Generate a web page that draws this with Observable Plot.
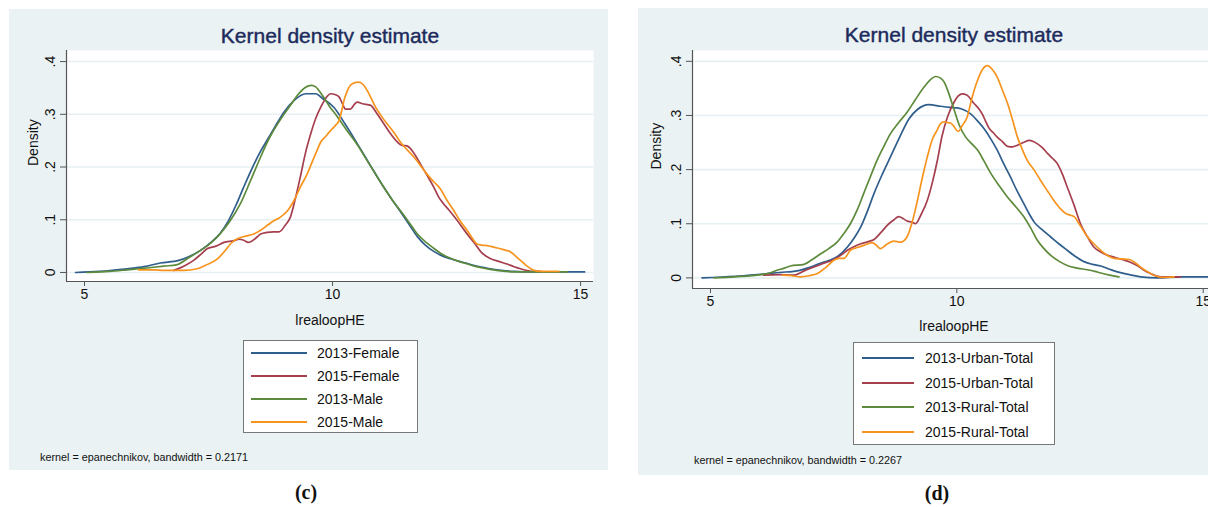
<!DOCTYPE html>
<html><head><meta charset="utf-8">
<script src="https://cdn.jsdelivr.net/npm/d3@7"></script>
<script src="https://cdn.jsdelivr.net/npm/@observablehq/plot@0.6"></script>
<style>
body{margin:0;background:#fff;}
#root{position:relative;width:1208px;height:507px;overflow:hidden;background:#fff;font-family:"Liberation Sans",Arial,sans-serif;color:#111}
.panel{position:absolute;background:#eaf2f3}
.title{position:absolute;font-size:21px;color:#1c2a5c;white-space:nowrap;transform:translate(-50%,-50%);-webkit-text-stroke:0.4px #1c2a5c}
.xlab{position:absolute;font-size:14px;white-space:nowrap;transform:translate(-50%,-50%)}
.legend{position:absolute;background:#fff;border:1px solid #777;box-sizing:border-box}
.lrow{position:absolute;left:0;right:0;height:0}
.lline{position:absolute;height:0;border-top:2px solid}
.ltext{position:absolute;font-size:14px;white-space:nowrap;transform:translateY(-50%)}
.note{position:absolute;white-space:nowrap;transform:translateY(-50%)}
.cap{position:absolute;font-family:"Liberation Serif","DejaVu Serif",serif;font-weight:bold;font-size:20px;transform:translate(-50%,-50%)}
svg{position:absolute;overflow:visible}
</style></head><body>
<div id="root"></div>
<script>
// ---------- data: panel (c) ----------
const cSeries = ["2013-Female", "2015-Female", "2013-Male", "2015-Male"];
const c2013Female = [[4.82,0],[5.3,0.002],[5.86,0.007],[6.2,0.011],[6.53,0.018],[6.9,0.023],[7.1,0.030],[7.34,0.042],[7.55,0.057],[7.74,0.075],[7.9,0.098],[8.05,0.127],[8.2,0.160],[8.38,0.198],[8.55,0.230],[8.7,0.254],[8.85,0.278],[9.02,0.304],[9.22,0.326],[9.46,0.339],[9.66,0.339],[9.8,0.330],[10.03,0.313],[10.25,0.282],[10.5,0.244],[10.75,0.205],[11.03,0.162],[11.2,0.138],[11.37,0.115],[11.55,0.090],[11.71,0.068],[11.87,0.052],[12.04,0.040],[12.2,0.032],[12.38,0.026],[12.55,0.021],[12.72,0.017],[12.9,0.012],[13.12,0.008],[13.4,0.004],[13.66,0.002],[14.05,0.001],[14.5,0.001],[15.08,0.001]];
const c2015Female = [[6.8,0.004],[7.0,0.012],[7.2,0.023],[7.35,0.035],[7.47,0.045],[7.65,0.050],[7.81,0.057],[8.0,0.060],[8.12,0.063],[8.21,0.061],[8.3,0.057],[8.45,0.065],[8.55,0.073],[8.68,0.076],[8.8,0.077],[8.92,0.077],[9.05,0.090],[9.15,0.105],[9.25,0.140],[9.35,0.181],[9.45,0.225],[9.56,0.263],[9.66,0.292],[9.76,0.313],[9.86,0.330],[9.96,0.339],[10.06,0.337],[10.13,0.333],[10.2,0.320],[10.26,0.310],[10.36,0.310],[10.45,0.320],[10.5,0.323],[10.6,0.320],[10.77,0.317],[10.87,0.305],[10.97,0.291],[11.07,0.277],[11.17,0.263],[11.3,0.248],[11.4,0.241],[11.5,0.240],[11.57,0.235],[11.67,0.222],[11.77,0.206],[11.9,0.185],[12.04,0.162],[12.14,0.143],[12.24,0.130],[12.35,0.118],[12.51,0.099],[12.68,0.077],[12.85,0.057],[13.0,0.038],[13.19,0.026],[13.35,0.021],[13.52,0.016],[13.66,0.011],[13.79,0.007],[13.95,0.003],[14.06,0.002],[14.2,0.002]];
const c2013Male = [[5.05,0],[5.5,0.002],[5.86,0.005],[6.3,0.009],[6.6,0.012],[6.87,0.015],[7.1,0.028],[7.34,0.042],[7.55,0.056],[7.74,0.074],[7.95,0.100],[8.14,0.130],[8.35,0.175],[8.55,0.219],[8.7,0.25],[8.81,0.269],[9.0,0.297],[9.15,0.317],[9.3,0.337],[9.49,0.353],[9.58,0.355],[9.66,0.352],[9.8,0.335],[9.94,0.315],[10.1,0.295],[10.3,0.268],[10.5,0.242],[10.75,0.204],[11.03,0.162],[11.2,0.138],[11.37,0.117],[11.55,0.094],[11.71,0.073],[11.9,0.056],[12.04,0.046],[12.2,0.035],[12.38,0.027],[12.55,0.021],[12.72,0.016],[12.9,0.011],[13.12,0.007],[13.4,0.003],[13.7,0.001],[14.2,0.001],[14.73,0.001]];
const c2015Male = [[6.09,0.005],[6.4,0.005],[6.6,0.004],[6.8,0.004],[7.0,0.004],[7.27,0.007],[7.45,0.014],[7.68,0.026],[7.85,0.043],[7.95,0.055],[8.08,0.064],[8.25,0.069],[8.41,0.073],[8.55,0.080],[8.68,0.089],[8.8,0.097],[8.95,0.105],[9.1,0.118],[9.22,0.136],[9.35,0.162],[9.49,0.187],[9.6,0.212],[9.69,0.232],[9.76,0.247],[9.86,0.258],[9.96,0.269],[10.05,0.278],[10.13,0.288],[10.18,0.305],[10.23,0.326],[10.3,0.345],[10.36,0.355],[10.45,0.360],[10.53,0.361],[10.62,0.356],[10.7,0.345],[10.78,0.330],[10.87,0.313],[10.98,0.297],[11.1,0.282],[11.24,0.265],[11.37,0.247],[11.5,0.233],[11.64,0.219],[11.77,0.203],[11.9,0.187],[12.04,0.172],[12.17,0.159],[12.3,0.138],[12.44,0.118],[12.57,0.098],[12.71,0.080],[12.81,0.066],[12.91,0.054],[13.0,0.052],[13.12,0.051],[13.25,0.048],[13.38,0.045],[13.5,0.042],[13.59,0.039],[13.69,0.031],[13.79,0.023],[13.92,0.012],[14.06,0.004],[14.2,0.002],[14.56,0.002]];

// ---------- data: panel (d) ----------
const dSeries = ["2013-Urban-Total", "2015-Urban-Total", "2013-Rural-Total", "2015-Rural-Total"];
const d2013Urban = [[4.83,0],[5.5,0.003],[6.08,0.007],[6.4,0.010],[6.76,0.013],[7.0,0.019],[7.23,0.027],[7.4,0.032],[7.57,0.039],[7.78,0.057],[7.92,0.074],[8.05,0.094],[8.18,0.122],[8.32,0.156],[8.48,0.190],[8.65,0.223],[8.85,0.262],[9.03,0.294],[9.2,0.311],[9.43,0.320],[9.67,0.317],[9.85,0.315],[10.01,0.314],[10.1,0.312],[10.28,0.303],[10.42,0.290],[10.55,0.276],[10.7,0.255],[10.82,0.236],[10.95,0.211],[11.09,0.186],[11.22,0.161],[11.36,0.137],[11.47,0.118],[11.57,0.103],[11.73,0.089],[11.9,0.076],[12.07,0.063],[12.24,0.051],[12.4,0.040],[12.58,0.030],[12.75,0.025],[12.92,0.022],[13.1,0.016],[13.26,0.011],[13.5,0.006],[13.73,0.002],[14.07,0.0],[14.54,0.002],[15.09,0.002],[15.25,0.002]];
const d2015Urban = [[6.08,0.005],[6.4,0.006],[6.69,0.005],[6.9,0.013],[7.1,0.020],[7.3,0.027],[7.51,0.034],[7.65,0.042],[7.78,0.051],[7.92,0.058],[8.05,0.063],[8.2,0.067],[8.32,0.071],[8.47,0.085],[8.62,0.100],[8.72,0.107],[8.82,0.113],[8.92,0.109],[8.99,0.105],[9.08,0.103],[9.16,0.100],[9.28,0.118],[9.4,0.143],[9.5,0.175],[9.6,0.215],[9.7,0.262],[9.81,0.297],[9.94,0.324],[10.03,0.336],[10.11,0.340],[10.2,0.338],[10.35,0.322],[10.45,0.312],[10.52,0.302],[10.58,0.290],[10.65,0.277],[10.74,0.268],[10.82,0.260],[10.92,0.252],[11.03,0.243],[11.13,0.242],[11.23,0.245],[11.35,0.250],[11.47,0.254],[11.55,0.252],[11.63,0.248],[11.74,0.240],[11.84,0.230],[11.94,0.221],[12.04,0.211],[12.14,0.192],[12.24,0.168],[12.38,0.134],[12.51,0.100],[12.65,0.076],[12.78,0.057],[12.92,0.048],[13.05,0.042],[13.2,0.038],[13.39,0.033],[13.52,0.029],[13.66,0.023],[13.8,0.014],[13.93,0.008],[14.14,0.002],[14.54,0.002]];
const d2013Rural = [[5.07,0],[5.5,0.002],[6.02,0.006],[6.2,0.009],[6.35,0.014],[6.5,0.018],[6.62,0.022],[6.9,0.025],[7.05,0.033],[7.23,0.044],[7.4,0.054],[7.57,0.066],[7.7,0.081],[7.84,0.100],[7.98,0.126],[8.11,0.156],[8.25,0.188],[8.38,0.217],[8.52,0.243],[8.65,0.266],[8.82,0.287],[8.99,0.306],[9.15,0.328],[9.33,0.352],[9.45,0.365],[9.57,0.372],[9.67,0.369],[9.74,0.362],[9.82,0.345],[9.94,0.312],[10.05,0.282],[10.18,0.260],[10.3,0.248],[10.42,0.236],[10.55,0.216],[10.69,0.193],[10.86,0.170],[11.03,0.149],[11.2,0.131],[11.36,0.113],[11.5,0.092],[11.63,0.070],[11.76,0.055],[11.9,0.042],[12.07,0.031],[12.24,0.023],[12.45,0.018],[12.65,0.015],[12.8,0.012],[12.92,0.009],[13.1,0.005],[13.29,0.002]];
const d2015Rural = [[6.46,0.005],[6.65,0.004],[6.83,0.002],[7.0,0.004],[7.17,0.008],[7.35,0.020],[7.51,0.033],[7.61,0.036],[7.71,0.036],[7.84,0.051],[7.98,0.056],[8.11,0.060],[8.28,0.065],[8.37,0.060],[8.45,0.054],[8.58,0.062],[8.72,0.068],[8.86,0.066],[8.99,0.076],[9.1,0.105],[9.2,0.143],[9.3,0.185],[9.4,0.223],[9.5,0.255],[9.6,0.273],[9.67,0.285],[9.74,0.288],[9.8,0.287],[9.87,0.286],[9.94,0.280],[10.0,0.272],[10.04,0.271],[10.1,0.280],[10.21,0.297],[10.3,0.330],[10.42,0.365],[10.52,0.385],[10.62,0.392],[10.72,0.385],[10.82,0.371],[10.92,0.348],[11.03,0.322],[11.13,0.292],[11.23,0.260],[11.33,0.237],[11.43,0.217],[11.57,0.199],[11.7,0.180],[11.83,0.162],[11.97,0.143],[12.1,0.128],[12.21,0.119],[12.3,0.116],[12.38,0.113],[12.5,0.097],[12.65,0.076],[12.78,0.063],[12.92,0.051],[13.05,0.042],[13.19,0.036],[13.35,0.035],[13.5,0.034],[13.62,0.028],[13.73,0.020],[13.86,0.012],[14.0,0.005],[14.14,0.001],[14.41,0.002]];

// ---------- tick labels & texts ----------
const xTicks = [5, 10, 15];
const yTicks = [0, 0.1, 0.2, 0.3, 0.4];
const yTickLabels = ["0", ".1", ".2", ".3", ".4"];
const titleText = "Kernel density estimate";
const xLabel = "lrealoopHE";
const yLabel = "Density";
const cNote = "kernel = epanechnikov, bandwidth = 0.2171";
const dNote = "kernel = epanechnikov, bandwidth = 0.2267";
const colors = ["#2f5e8c", "#a53f4e", "#5d8b3b", "#f7941e"];

const root = document.getElementById("root");
function el(cls, style, text) {
  const e = document.createElement("div");
  e.className = cls;
  Object.assign(e.style, style);
  if (text != null) e.textContent = text;
  root.appendChild(e);
  return e;
}

function panel(cfg) {
  el("panel", {left: cfg.bg[0]+"px", top: cfg.bg[1]+"px", width: cfg.bg[2]+"px", height: cfg.bg[3]+"px"});
  const rows = [];
  cfg.names.forEach((n, i) => cfg.data[i].forEach(([x, y]) => rows.push({s: n, x, y})));
  const svg = Plot.plot({
    width: cfg.w, height: cfg.h,
    marginLeft: cfg.m[0], marginRight: cfg.m[1], marginTop: cfg.m[2], marginBottom: cfg.m[3],
    style: {background: "transparent", fontFamily: "Liberation Sans, Arial, sans-serif", color: "#111"},
    x: {domain: cfg.xd},
    y: {domain: cfg.yd},
    color: {domain: cfg.names, range: colors},
    marks: [
      Plot.frame({fill: "white", stroke: null}),
      Plot.gridY(yTicks, {stroke: "#e6eff1", strokeOpacity: 1, strokeWidth: 1.6}),
      Plot.line(rows, {x: "x", y: "y", z: "s", stroke: "s", strokeWidth: 1.7, curve: "monotone-x"}),
      Plot.ruleX([cfg.xd[0]], {stroke: "#555", strokeWidth: 1.2}),
      Plot.ruleY([cfg.yd[0]], {stroke: "#555", strokeWidth: 1.2}),
      Plot.axisX({ticks: xTicks, tickSize: 5, tickPadding: 3, fontSize: 14, label: null, stroke: "#555", fill: "#111"}),
      Plot.axisY({ticks: yTicks, tickSize: 6, tickFormat: () => "", label: null, stroke: "#555"}),
      Plot.text(yTicks, {frameAnchor: "left", y: d => d, text: (d, i) => yTickLabels[i], rotate: -90, dx: -12, textAnchor: "middle", lineAnchor: "bottom", fontSize: 14, fill: "#111"}),
      Plot.text([yLabel], {frameAnchor: "left", text: d => d, rotate: -90, dx: cfg.ylabDx, lineAnchor: "middle", fontSize: 14, fill: "#111"})
    ]
  });
  svg.style.left = cfg.sx + "px";
  svg.style.top = cfg.sy + "px";
  root.appendChild(svg);

  el("title", {left: cfg.title[0]+"px", top: cfg.title[1]+"px"}, titleText);
  el("xlab", {left: cfg.xlab[0]+"px", top: cfg.xlab[1]+"px"}, xLabel);
  const L = cfg.legend;
  const lg = el("legend", {left: L.x+"px", top: L.y+"px", width: L.w+"px", height: L.h+"px"});
  cfg.names.forEach((n, i) => {
    const r = document.createElement("div");
    r.className = "lrow";
    r.style.top = (L.first + i * L.step) + "px";
    const ln = document.createElement("div");
    ln.className = "lline";
    Object.assign(ln.style, {left: L.l0+"px", width: L.lw+"px", top: "-1px", borderTopColor: colors[i]});
    const tx = document.createElement("div");
    tx.className = "ltext";
    tx.style.left = L.t0 + "px";
    tx.textContent = n;
    r.appendChild(ln); r.appendChild(tx);
    lg.appendChild(r);
  });
  el("note", {left: cfg.note[0]+"px", top: cfg.note[1]+"px", fontSize: cfg.note[2]+"px"}, cfg.noteText);
  el("cap", {left: cfg.cap[0]+"px", top: cfg.cap[1]+"px"}, cfg.capText);
}

panel({
  bg: [9, 9, 599, 461],
  sx: 9, sy: 9, w: 599, h: 331, m: [57, 15, 41, 59],
  xd: [4.637, 15.26], yd: [-0.0171, 0.421],
  names: cSeries, data: [c2013Female, c2015Female, c2013Male, c2015Male],
  ylabDx: -33,
  title: [330, 36], xlab: [330, 320],
  legend: {x: 243, y: 340, w: 175, h: 93, first: 12, step: 23, l0: 7, lw: 56, t0: 73},
  note: [40, 457, 10.8], noteText: cNote,
  cap: [306, 492], capText: "(c)"
});
panel({
  bg: [638, 8, 580, 467],
  sx: 638, sy: 8, w: 592, h: 337, m: [54, 14, 42, 57],
  xd: [4.635, 15.27], yd: [-0.0196, 0.420],
  names: dSeries, data: [d2013Urban, d2015Urban, d2013Rural, d2015Rural],
  ylabDx: -36,
  title: [954, 35], xlab: [954, 326],
  legend: {x: 853, y: 342, w: 202, h: 103, first: 15, step: 24.6, l0: 8, lw: 52, t0: 71},
  note: [694, 460, 10.8], noteText: dNote,
  cap: [937, 493], capText: "(d)"
});
</script>
</body></html>
